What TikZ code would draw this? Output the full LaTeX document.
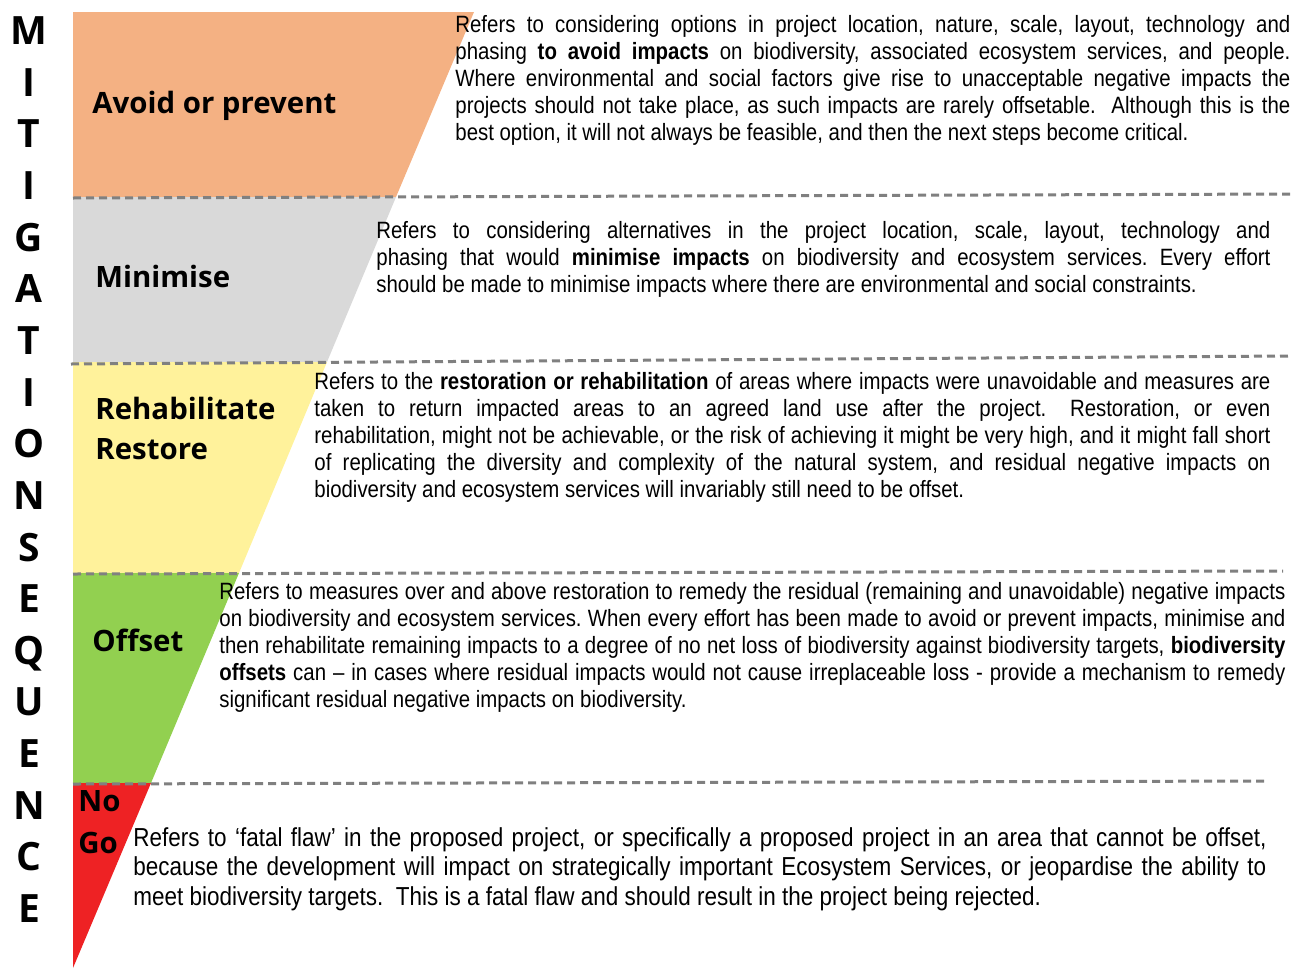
\documentclass[tikz,border=0pt]{standalone}
\usepackage{fontspec}
\setmainfont{Liberation Sans}[FakeStretch=0.865]
\newfontfamily\headfont{Open Sans}
\usetikzlibrary{calc}
\usetikzlibrary{positioning}
\frenchspacing
\definecolor{avoidcol}{HTML}{F4B183}
\definecolor{minicol}{HTML}{D9D9D9}
\definecolor{restcol}{HTML}{FFF29B}
\definecolor{offcol}{HTML}{92D050}
\definecolor{nogocol}{HTML}{EE2224}
\definecolor{dashcol}{HTML}{808080}
\tikzstyle{seqletter} = [font=\headfont\bfseries\fontsize{19.5}{20}\selectfont, anchor=base, inner sep=0pt]
\tikzstyle{stepname} = [font=\headfont\bfseries\fontsize{14.7}{20}\selectfont, anchor=base west, inner sep=0pt, align=left]
\tikzstyle{stepnote} = [anchor=north west, inner sep=0pt, align=justify, font=\fontsize{11.8}{13.5}\selectfont]
\tikzstyle{levelline} = [draw=dashcol, line width=1.5pt, dash pattern=on 4pt off 2.5pt]

\begin{document}
\begin{tikzpicture}[x=0.5pt, y=-0.5pt]
\useasboundingbox (0,0) rectangle (1293,969);

% funnel bands
\fill[avoidcol] (73,12) -- (474,12) -- (396,197) -- (73,197) -- cycle;
\fill[minicol] (73,197) -- (396,197) -- (327,362) -- (73,362) -- cycle;
\fill[restcol] (73,362) -- (327,362) -- (239,573) -- (73,573) -- cycle;
\fill[offcol] (73,573) -- (239,573) -- (151,783) -- (73,783) -- cycle;
\fill[nogocol] (73,783) -- (151,783) -- (73,968) -- cycle;

% level separators
\draw[levelline] (73,198) -- (1293,194);
\draw[levelline] (71,364) -- (1290,356);
\draw[levelline] (73,574) -- (1283,571);
\draw[levelline] (73,784) -- (1267,781);

% vertical title
\foreach \ch [count=\i from 0] in {M,I,T,I,G,A,T,I,O,N,S,E,Q,U,E,N,C,E}
    \node[seqletter] (seq\i) at (29, {44.5+51.65*\i}) {\ch};

% step names
\node[stepname] (avoid) at (92,113) {Avoid or prevent};
\node[stepname] (minimise) at (95,287) {Minimise};
\node[stepname] (rehab) at (95,459) {Rehabilitate\\Restore};
\node[stepname] (offset) at (92,651) {Offset};
\node[stepname] (nogo) at (78,853) {No\\[1pt]Go};

% step notes
\node[stepnote, text width=417.5pt] (avoidtxt) at (455,15) {Refers to considering options in project location, nature, scale, layout, technology and\linebreak
phasing \textbf{to avoid impacts} on biodiversity, associated ecosystem services, and people.\linebreak
Where environmental and social factors give rise to unacceptable negative impacts the\linebreak
projects should not take place, as such impacts are rarely offsetable.\ \ Although this is the\linebreak
best option, it will not always be feasible, and then the next steps become critical.};

\node[stepnote, text width=447pt] (minitxt) at (376,221) {Refers to considering alternatives in the project location, scale, layout, technology and\linebreak
phasing that would \textbf{minimise impacts} on biodiversity and ecosystem services. Every effort\linebreak
should be made to minimise impacts where there are environmental and social constraints.};

\node[stepnote, text width=478pt] (resttxt) at (314,372) {Refers to the \textbf{restoration or rehabilitation} of areas where impacts were unavoidable and measures are\linebreak
taken to return impacted areas to an agreed land use after the project.\quad Restoration, or even\linebreak
rehabilitation, might not be achievable, or the risk of achieving it might be very high, and it might fall short\linebreak
of replicating the diversity and complexity of the natural system, and residual negative impacts on\linebreak
biodiversity and ecosystem services will invariably still need to be offset.};

\node[stepnote, text width=533pt] (offtxt) at (219,582) {Refers to measures over and above restoration to remedy the residual (remaining and unavoidable) negative impacts\linebreak
on biodiversity and ecosystem services. When every effort has been made to avoid or prevent impacts, minimise and\linebreak
then rehabilitate remaining impacts to a degree of no net loss of biodiversity against biodiversity targets, \textbf{biodiversity}\linebreak
\textbf{offsets} can – in cases where residual impacts would not cause irreplaceable loss - provide a mechanism to remedy\linebreak
significant residual negative impacts on biodiversity.};

\node[stepnote, text width=566.5pt, font=\fontsize{13}{14.75}\selectfont] (nogotxt) at (133,827) {Refers to ‘fatal flaw’ in the proposed project, or specifically a proposed project in an area that cannot be offset,\linebreak
because the development will impact on strategically important Ecosystem Services, or jeopardise the ability to\linebreak
meet biodiversity targets.\ \ This is a fatal flaw and should result in the project being rejected.};
\end{tikzpicture}
\end{document}
